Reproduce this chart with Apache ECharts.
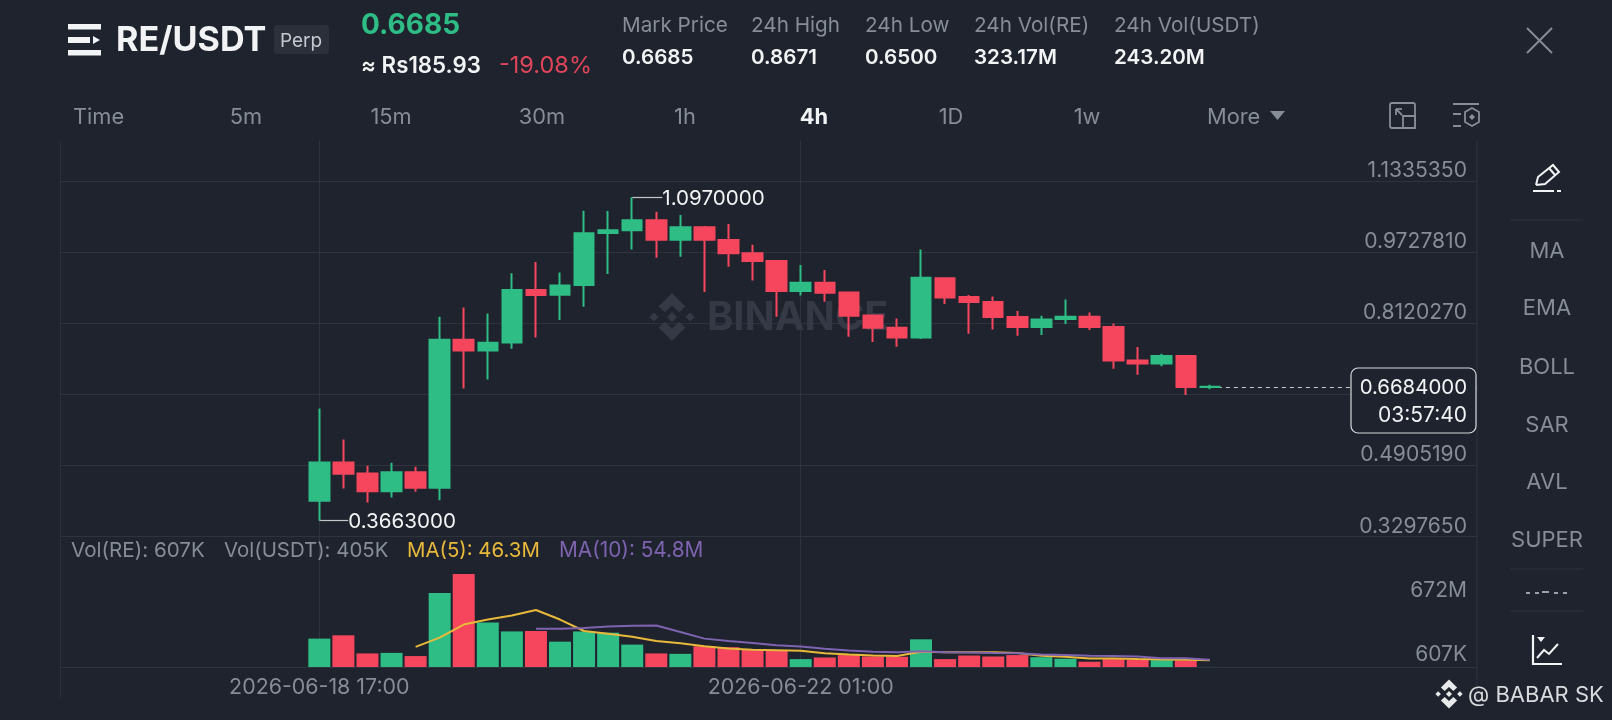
<!DOCTYPE html>
<html><head><meta charset="utf-8">
<style>html,body{margin:0;padding:0;background:#1E232D}#c{width:1612px;height:720px}</style>
<script src="https://cdn.jsdelivr.net/npm/echarts@6/dist/echarts.min.js"></script>
</head><body><div id="c"></div>
<script>
const times=["2026-06-18 17:00","2026-06-18 21:00","2026-06-19 01:00","2026-06-19 05:00","2026-06-19 09:00","2026-06-19 13:00","2026-06-19 17:00","2026-06-19 21:00","2026-06-20 01:00","2026-06-20 05:00","2026-06-20 09:00","2026-06-20 13:00","2026-06-20 17:00","2026-06-20 21:00","2026-06-21 01:00","2026-06-21 05:00","2026-06-21 09:00","2026-06-21 13:00","2026-06-21 17:00","2026-06-21 21:00","2026-06-22 01:00","2026-06-22 05:00","2026-06-22 09:00","2026-06-22 13:00","2026-06-22 17:00","2026-06-22 21:00","2026-06-23 01:00","2026-06-23 05:00","2026-06-23 09:00","2026-06-23 13:00","2026-06-23 17:00","2026-06-23 21:00","2026-06-24 01:00","2026-06-24 05:00","2026-06-24 09:00","2026-06-24 13:00","2026-06-24 17:00","2026-06-24 21:00"];
const opens=[.4108,.4974,.4726,.4326,.4756,.4402,.7748,.7507,.7688,.8871,.8765,.8984,1.0160,1.0220,1.0446,1.0009,1.0288,1.0001,.9700,.9526,.8848,.9037,.8818,.8298,.8019,.7801,.9135,.8713,.8599,.8260,.8034,.8215,.8268,.8034,.7281,.7213,.7379,.6678];
const closes=[.4974,.4718,.4326,.4756,.4402,.7748,.7507,.7680,.8871,.8758,.8976,1.0152,1.0220,1.0446,1.0009,1.0288,1.0009,.9700,.9526,.8848,.9037,.8810,.8290,.8019,.7801,.9150,.8705,.8599,.8260,.8034,.8208,.8268,.8034,.7281,.7213,.7379,.6678,.6684];
const highs=[.6195,.5494,.4899,.4967,.4876,.8268,.8479,.8343,.9248,.9504,.9270,1.0665,1.0657,1.0970,1.0642,1.0567,1.0318,1.0363,.9896,.9530,.9436,.9323,.8818,.8313,.8230,.9790,.9142,.8758,.8728,.8396,.8290,.8660,.8366,.8117,.7582,.7431,.7379,.6730];
const lows=[.3663,.4386,.4070,.4183,.4311,.4123,.6647,.6851,.7544,.7801,.8192,.8494,.9233,.9790,.9602,.9624,.8826,.9398,.9089,.8268,.8750,.8607,.7816,.7695,.7590,.7763,.8554,.7883,.7981,.7838,.7853,.8102,.7966,.7092,.6956,.7152,.6500,.6632];
const volumes=[205,229,98,102,79,534,672,322,257,260,183,257,248,162,98,95,150,143,124,117,57,69,86,76,74,200,57,83,76,86,71,60,38,57,52,50,48,0.405];
const ma5=[null,null,null,null,145,212,307,343,372,412,343,260,241,219,188,172,150,133,124,121,117,100,91,83,79,110,107,107,107,102,81,74,62,62,57,55,52,48];
const ma10=[null,null,null,null,null,null,null,null,null,276,276,281,293,298,300,253,205,188,174,157,148,131,119,110,107,114,107,105,102,100,91,86,81,79,76,64,64,52];
const priceTicks=[0.329765,0.490519,0.651273,0.812027,0.972781,1.133535];
const volumeLabels=[0.607,672];
const timeLabels=["2026-06-18 17:00","2026-06-22 01:00"];
const lastPrice=0.6684;
const highPoint=["2026-06-20 21:00",1.097], lowPoint=["2026-06-18 17:00",0.3663];

const F="Inter, Lato, 'Noto Sans', sans-serif";
const BG="#1E232D",UP="#2EBD85",DN="#F6465D",GRID="#2E333D",GRAY="#878D97",YEL="#E8B93A",PUR="#7D63B0";
const ts=s=>new Date(s.replace(' ','T')+':00').getTime();
const H=3600000;
const xMin=ts(times[0])-43*H, xMax=ts(times[0])+192.4*H;

function T(text,x,y,size,fill,weight,align){return {type:'text',z:50,style:{text,x,y,fill,font:(weight||400)+' '+size+'px '+F,textAlign:align||'left',textVerticalAlign:'middle'}};}
function L(x1,y1,x2,y2,stroke,w){return {type:'line',z:50,shape:{x1,y1,x2,y2},style:{stroke,lineWidth:w||1.5}};}
function P(points,stroke,w,fill,close){return {type:close?'polygon':'polyline',z:50,shape:{points},style:{stroke:stroke||null,lineWidth:w||1.5,fill:fill||null}};}
function R(x,y,w,h,stroke,fill,lw,r,z){return {type:'rect',z:z||50,shape:{x,y,width:w,height:h,r:r||0},style:{stroke:stroke||null,fill:fill||null,lineWidth:lw||1.5}};}
function logo(cx,cy,s,fill,z){
  const m=pts=>pts.map(p=>[cx+p[0]*s,cy+p[1]*s]);
  const shapes=[
    [[0,-.21],[.21,0],[0,.21],[-.21,0]],
    [[-.75,-.19],[-.56,0],[-.75,.19],[-.94,0]],
    [[.75,-.19],[.94,0],[.75,.19],[.56,0]],
    [[0,-1],[.56,-.44],[.3,-.2],[0,-.48],[-.3,-.2],[-.56,-.44]],
    [[0,1],[.56,.44],[.3,.2],[0,.48],[-.3,.2],[-.56,.44]]];
  return shapes.map(p=>({type:'polygon',z:z,shape:{points:m(p)},style:{fill}}));
}
const WHITE="#F2F3F5";
const graphics=[
  ...logo(672,317,24,"#343945",1),
  {type:'text',z:1,style:{text:'BINANCE',x:707,y:318,fill:"#343945",font:"700 39.8px "+F,textVerticalAlign:'middle',textAlign:'left'}},
  L(60.6,141,60.6,698,GRID,1),L(1477,141,1477,698,GRID,1),
  R(68,24,33,5.5,null,WHITE,1),R(68,37,22,6,null,WHITE,1),R(68,50,33,5.5,null,WHITE,1),
  P([[93,36],[100,40],[93,44]],null,1,WHITE,true),
  T('RE/USDT',116,41,34.2,WHITE,700),
  R(274,25,55,29,null,"#2B303B",1,3),
  T('Perp',301,41,19,"#C5C8CE",400,'center'),
  T('0.6685',361,26,28,UP,700),
  T('≈ Rs185.93',361,66,22.3,WHITE,600),
  T('-19.08%',499,66,23.5,"#E0455A",400),
  T('Mark Price',622,26,20.7,GRAY),T('0.6685',622,58,20.6,WHITE,600),
  T('24h High',751,26,20.7,GRAY),T('0.8671',751,58,20.6,WHITE,600),
  T('24h Low',865,26,20.7,GRAY),T('0.6500',865,58,20.6,WHITE,600),
  T('24h Vol(RE)',974,26,20.7,GRAY),T('323.17M',974,58,20.6,WHITE,600),
  T('24h Vol(USDT)',1114,26,20.7,GRAY),T('243.20M',1114,58,20.6,WHITE,600),
  L(1527,28,1552,53,GRAY,2),L(1552,28,1527,53,GRAY,2),
  T('Time',73,117,21.8,GRAY),T('5m',246,117,21.8,GRAY,400,'center'),T('15m',391,117,21.8,GRAY,400,'center'),
  T('30m',542,117,21.8,GRAY,400,'center'),T('1h',685,117,21.8,GRAY,400,'center'),T('4h',814,117,21.8,WHITE,700,'center'),
  T('1D',951,117,21.8,GRAY,400,'center'),T('1w',1087,117,21.8,GRAY,400,'center'),T('More',1207,117,21.8,GRAY),
  P([[1270,111],[1285,111],[1277.5,120]],null,1,GRAY,true),
  R(1390,103,25,25,GRAY,null,1.8,2),R(1403,116,12,12,GRAY,BG,1.8),
  L(1396,109,1402,115,GRAY,1.8),L(1396,115,1396,109,GRAY,1.8),L(1396,109,1402,109,GRAY,1.8),
  L(1453,104,1479,104,GRAY,2),L(1453,114,1461,114,GRAY,2),L(1453,126,1461,126,GRAY,2),
  P([[1472,108],[1479,112],[1479,122],[1472,126],[1465,122],[1465,112]],GRAY,1.8,null,true),
  P([[1472,114],[1475,117],[1472,120],[1469,117]],null,1,GRAY,true),
  P([[1536,185],[1538,177],[1553,165],[1559,172],[1545,184],[1536,185]],WHITE,2),
  L(1549,168,1555,175,WHITE,2),
  L(1533,191,1554,191,WHITE,2),L(1557,191,1561,191,WHITE,2),
  L(1510,220,1583,220,"#2E333D",1),L(1510,569,1583,569,"#2E333D",1),L(1510,611,1583,611,"#2E333D",1),
  T('MA',1547,251,22,GRAY,400,'center'),T('EMA',1547,308,22,GRAY,400,'center'),T('BOLL',1547,367,22,GRAY,400,'center'),
  T('SAR',1547,425,22,GRAY,400,'center'),T('AVL',1547,482,22,GRAY,400,'center'),T('SUPER',1547,540,22,GRAY,400,'center'),
  L(1526,593,1530,593,"#C9CCD1",1.5),L(1535,593,1539,593,"#C9CCD1",1.5),L(1542,592,1549,592,"#C9CCD1",1.5),L(1554,593,1558,593,"#C9CCD1",1.5),L(1563,593,1567,593,"#C9CCD1",1.5),
  P([[1533,635],[1533,664],[1562,664]],WHITE,2.2),
  P([[1537,658],[1544,650],[1549,654],[1558,644]],WHITE,2),
  P([[1537,637],[1545,637],[1541,642]],null,1,WHITE,true),
  T('Vol(RE): 607K',71,551,20.6,GRAY),T('Vol(USDT): 405K',224,551,20.4,GRAY),
  T('MA(5): 46.3M',407,551,20.4,YEL),T('MA(10): 54.8M',559,551,20.8,PUR),
  R(1351,368,125,65,"#D6D8DC",BG,1.2,7,60),
  {type:'text',z:61,style:{text:'0.6684000',x:1467,y:388,fill:WHITE,font:"400 20.4px "+F,textAlign:'right',textVerticalAlign:'middle'}},
  {type:'text',z:61,style:{text:'03:57:40',x:1467,y:416,fill:WHITE,font:"400 21px "+F,textAlign:'right',textVerticalAlign:'middle'}},
  ...logo(1449,694,14.5,"#E8E9EB",61),
  {type:'text',z:61,style:{text:'@ BABAR SK',x:1468,y:695,fill:"#D8DADD",font:"400 22px "+F,textVerticalAlign:'middle'}}
];

const volColor=p=>closes[p.dataIndex]>=opens[p.dataIndex]?UP:DN;
const pointLabel=(txt,dy)=>({show:true,position:'end',formatter:txt,color:WHITE,fontFamily:F,fontSize:20.6,distance:0,offset:[0,dy]});

const option={
  animation:false,backgroundColor:BG,
  textStyle:{fontFamily:F},
  grid:[
    {left:60.6,width:1416.4,top:141,height:395.7,show:false},
    {left:60.6,width:1416.4,top:536.7,height:130.3,show:false}
  ],
  xAxis:[
    {type:'value',gridIndex:0,min:xMin,max:xMax,position:'bottom',
     axisLine:{show:false},axisLabel:{show:false},
     axisTick:{show:false,customValues:timeLabels.map(ts)},
     splitLine:{show:true,lineStyle:{color:GRID,width:1}}},
    {type:'value',gridIndex:1,min:xMin,max:xMax,position:'bottom',
     axisLine:{show:false},
     axisTick:{show:false,customValues:timeLabels.map(ts)},
     axisLabel:{show:true,margin:10,customValues:timeLabels.map(ts),color:GRAY,fontSize:21.4,fontFamily:F,
       formatter:v=>echarts.time.format(v,'{yyyy}-{MM}-{dd} {HH}:{mm}',false)},
     splitLine:{show:true,lineStyle:{color:GRID,width:1}}}
  ],
  yAxis:[
    {type:'value',gridIndex:0,position:'right',min:priceTicks[0],max:1.223923,
     axisLine:{show:false},
     axisTick:{show:false,customValues:priceTicks},
     axisLabel:{inside:true,margin:10,customValues:priceTicks,color:GRAY,fontSize:21.1,fontFamily:F,verticalAlign:'bottom',padding:[0,0,0,0],
       formatter:v=>v.toFixed(7)},
     splitLine:{show:true,lineStyle:{color:GRID,width:1}}},
    {type:'value',gridIndex:1,position:'right',min:0,max:941.5,
     axisLine:{show:false},
     axisTick:{show:false,customValues:[0]},
     axisLabel:{inside:true,margin:10,customValues:volumeLabels,color:GRAY,fontSize:21,fontFamily:F,verticalAlign:'bottom',verticalAlignMaxLabel:'top',padding:[6,0,2,0],
       formatter:v=>v<1?'607K':'672M'},
     splitLine:{show:true,lineStyle:{color:GRID,width:1}}}
  ],
  series:[
    {type:'candlestick',name:'RE/USDT',xAxisIndex:0,yAxisIndex:0,barWidth:20,z:5,
     data:times.map((t,i)=>[ts(t),opens[i],closes[i],lows[i],highs[i]]),
     encode:{x:0,y:[1,2,3,4]},
     itemStyle:{color:UP,color0:DN,borderColor:UP,borderColor0:DN,borderWidth:2},
     markLine:{symbol:'none',silent:true,animation:false,
       data:[
        [{coord:[ts(highPoint[0]),highPoint[1]],lineStyle:{color:"#C3C6CB",width:1.2,type:'solid'},label:pointLabel('1.0970000',2)},{coord:[ts(highPoint[0])+5*H,highPoint[1]]}],
        [{coord:[ts(lowPoint[0]),lowPoint[1]],lineStyle:{color:"#C3C6CB",width:1.2,type:'solid'},label:pointLabel('0.3663000',1)},{coord:[ts(lowPoint[0])+4.8*H,lowPoint[1]]}],
        [{coord:[ts(times[37]),lastPrice],lineStyle:{color:"#C9CCD1",width:1.2,type:[4,4]},label:{show:false}},{coord:[xMax,lastPrice]}]
       ]}},
    {type:'bar',name:'Vol',xAxisIndex:1,yAxisIndex:1,barWidth:22,z:3,
     data:times.map((t,i)=>[ts(t),volumes[i]]),itemStyle:{color:volColor}},
    {type:'line',name:'MA5',xAxisIndex:1,yAxisIndex:1,z:4,showSymbol:false,symbol:'none',connectNulls:false,
     data:times.map((t,i)=>[ts(t),ma5[i]]),lineStyle:{color:YEL,width:2}},
    {type:'line',name:'MA10',xAxisIndex:1,yAxisIndex:1,z:4,showSymbol:false,symbol:'none',connectNulls:false,
     data:times.map((t,i)=>[ts(t),ma10[i]]),lineStyle:{color:PUR,width:2}}
  ],
  graphic:{elements:graphics}
};
const chart=echarts.init(document.getElementById('c'),null,{renderer:'canvas'});
chart.setOption(option);
</script></body></html>
